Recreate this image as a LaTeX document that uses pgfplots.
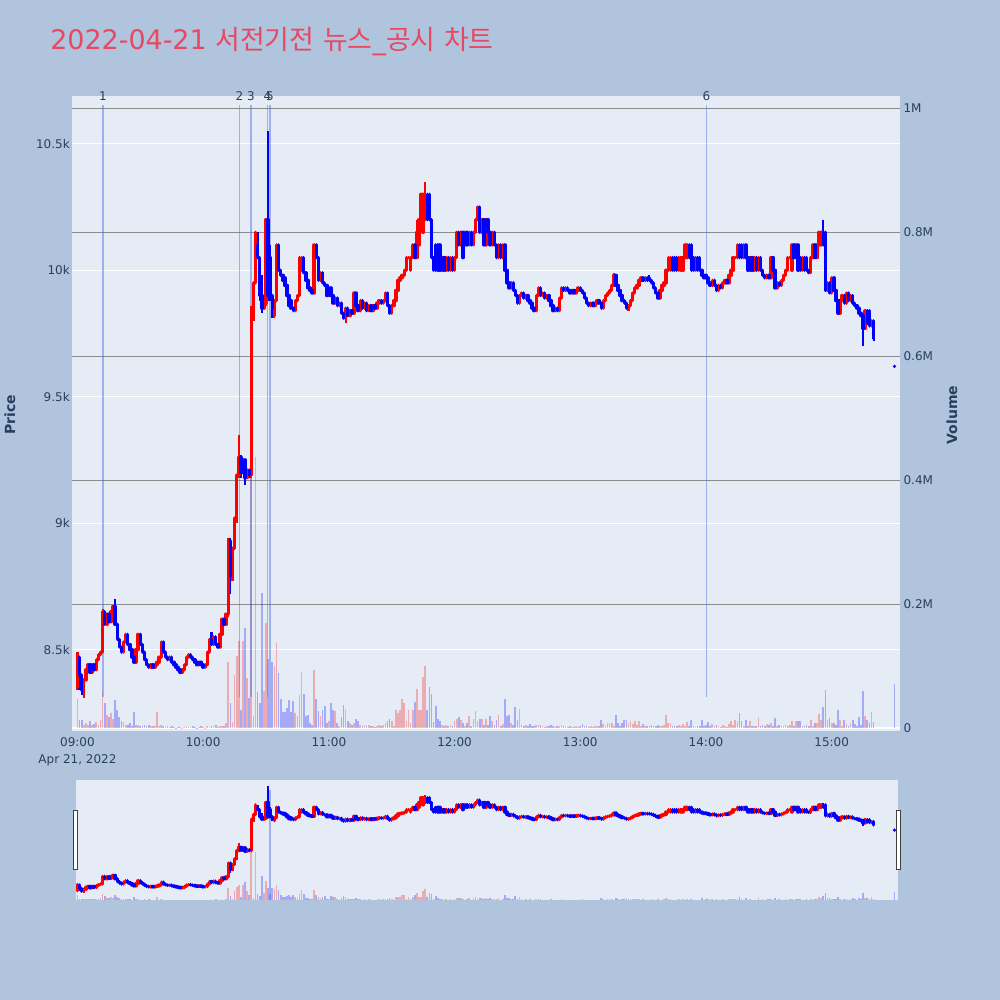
\documentclass[border=0pt]{standalone}
\usepackage{fontspec}
\usepackage{pgfplots}
\pgfplotsset{compat=1.18}
\usepackage{pgfplotstable}
\setmainfont{DejaVu Sans}
\newfontfamily\krfont{Noto Sans CJK KR}
\definecolor{pagebg}{RGB}{176,196,222}
\definecolor{plotbg}{RGB}{229,236,246}
\definecolor{tickc}{RGB}{42,63,95}
\definecolor{titlec}{RGB}{232,72,98}
\definecolor{vgrid}{RGB}{140,140,140}
\definecolor{vlinec}{RGB}{65,105,225}
\definecolor{upc}{RGB}{255,0,0}
\definecolor{dnc}{RGB}{0,0,255}

% t = minutes after 09:00, o h l c = price, v = volume, d = 1 up / -1 down
\pgfplotstableread{
t o h l c v d
0 8350 8490 8340 8480 48000 1
1 8470 8470 8340 8400 13000 -1
2 8400 8400 8320 8340 13000 -1
3 8340 8380 8310 8380 6000 1
4 8380 8420 8380 8420 8000 1
5 8420 8440 8420 8440 6000 1
6 8440 8440 8410 8410 12000 -1
7 8410 8440 8410 8440 5000 1
8 8440 8440 8420 8420 7000 -1
9 8420 8460 8420 8460 10000 1
10 8460 8480 8460 8480 6000 1
11 8480 8490 8480 8490 14000 1
12 8490 8660 8490 8650 58000 1
13 8650 8650 8600 8600 40000 -1
14 8600 8640 8600 8640 22000 1
15 8640 8640 8610 8610 18000 -1
16 8610 8650 8610 8650 25000 1
17 8650 8670 8650 8670 15000 1
18 8670 8700 8600 8600 45000 -1
19 8600 8600 8540 8540 30000 -1
20 8540 8540 8510 8510 18000 -1
21 8510 8510 8490 8490 12000 -1
22 8490 8530 8490 8530 10000 1
23 8530 8560 8530 8560 6000 1
24 8560 8560 8520 8520 5000 -1
25 8520 8520 8500 8500 8000 -1
26 8500 8500 8470 8470 4000 -1
27 8470 8470 8450 8450 26000 -1
28 8450 8500 8450 8500 6000 1
29 8500 8560 8500 8560 5000 1
30 8560 8560 8520 8520 4000 -1
31 8520 8520 8490 8490 3000 -1
32 8490 8490 8460 8460 6000 -1
33 8460 8460 8440 8440 3000 -1
34 8440 8440 8430 8430 5000 -1
35 8430 8440 8430 8440 3000 1
36 8440 8440 8430 8430 4000 -1
37 8430 8440 8430 8440 3000 1
38 8440 8450 8440 8450 26000 1
39 8450 8470 8450 8470 4000 1
40 8470 8530 8470 8530 5000 1
41 8530 8530 8490 8490 3000 -1
42 8490 8490 8470 8470 2000 -1
43 8470 8470 8460 8460 3000 -1
44 8460 8470 8460 8470 2000 1
45 8470 8470 8450 8450 4000 -1
46 8450 8450 8440 8440 2000 -1
47 8440 8440 8430 8430 1000 -1
48 8430 8430 8420 8420 2000 -1
49 8420 8420 8410 8410 2000 -1
50 8410 8420 8410 8420 1000 1
51 8420 8440 8420 8440 2000 1
52 8440 8470 8440 8470 3000 1
53 8470 8480 8470 8480 2000 1
54 8480 8480 8470 8470 2000 -1
55 8470 8470 8460 8460 3000 -1
56 8460 8460 8450 8450 2000 -1
57 8450 8450 8440 8440 1000 -1
58 8440 8450 8440 8450 2000 1
59 8450 8450 8440 8440 3000 -1
60 8440 8440 8430 8430 2000 -1
61 8430 8440 8430 8440 1000 1
62 8440 8490 8440 8490 3000 1
63 8490 8540 8490 8540 2000 1
64 8540 8570 8520 8520 4000 -1
65 8520 8550 8520 8550 3000 1
66 8550 8550 8520 8520 6000 -1
67 8520 8520 8510 8510 2000 -1
68 8510 8560 8510 8560 3000 1
69 8560 8620 8560 8620 4000 1
70 8620 8620 8600 8600 3000 -1
71 8600 8640 8600 8640 9000 1
72 8640 8940 8630 8930 107000 1
73 8930 8940 8720 8790 40000 -1
74 8790 8900 8770 8900 10000 1
75 8900 9020 8900 9020 86000 1
76 9020 9190 9000 9190 116000 1
77 9190 9350 9180 9260 140000 1
78 9260 9270 9180 9200 30000 -1
79 9200 9250 9200 9250 140000 1
80 9250 9250 9150 9180 162000 -1
81 9180 9210 9180 9210 81000 1
82 9210 9210 9180 9190 49000 -1
83 9190 9860 9180 9850 470000 1
84 9850 9950 9800 9950 20000 1
85 9950 10150 9950 10150 437000 1
86 10100 10150 10050 10050 59000 -1
87 10050 10050 9880 9900 40000 -1
88 9900 9980 9830 9850 218000 -1
89 9850 9870 9850 9870 60000 1
90 9870 10200 9860 10200 170000 1
91 10200 10550 9880 9900 111000 -1
92 10050 10100 9880 9900 50000 -1
93 9900 9900 9810 9850 107000 -1
94 9820 9880 9810 9880 100000 1
95 9880 10100 9880 10100 137000 1
96 10100 10100 10000 10000 89000 -1
97 10000 10000 9980 9980 47000 -1
98 9980 9980 9960 9960 27000 -1
99 9970 9970 9940 9940 27000 -1
100 9940 9940 9900 9900 32000 -1
101 9900 9900 9860 9860 45000 -1
102 9880 9880 9850 9850 27000 -1
103 9850 9850 9840 9840 44000 -1
104 9840 9880 9840 9880 24000 1
105 9880 9900 9880 9900 20000 1
106 9900 10050 9900 10050 54000 1
107 10000 10050 10000 10050 90000 1
108 10050 10050 9990 9990 55000 -1
109 9990 9990 9960 9960 20000 -1
110 9960 9960 9930 9930 22000 -1
111 9930 9930 9920 9920 8000 -1
112 9920 9920 9910 9910 5000 -1
113 9910 10100 9910 10100 94000 1
114 10100 10100 10050 10050 47000 -1
115 10050 10050 9960 9960 28000 -1
116 9960 9990 9960 9990 20000 1
117 9990 9990 9950 9950 30000 -1
118 9950 9950 9940 9940 36000 -1
119 9940 9940 9900 9900 8000 -1
120 9900 9930 9900 9930 12000 1
121 9930 9930 9900 9900 40000 -1
122 9900 9900 9870 9870 30000 -1
123 9870 9890 9870 9890 28000 1
124 9890 9890 9860 9860 8000 -1
125 9860 9870 9860 9870 3000 1
126 9870 9870 9830 9830 18000 -1
127 9830 9830 9810 9810 38000 -1
128 9810 9850 9790 9850 30000 1
129 9850 9850 9820 9820 12000 -1
130 9820 9840 9820 9840 8000 1
131 9840 9840 9830 9830 6000 -1
132 9830 9910 9830 9910 8000 1
133 9910 9910 9860 9860 15000 -1
134 9860 9860 9840 9840 11000 -1
135 9840 9880 9840 9880 5000 1
136 9880 9880 9850 9850 4000 -1
137 9850 9870 9850 9870 6000 1
138 9870 9870 9840 9840 3000 -1
139 9840 9860 9840 9860 5000 1
140 9860 9860 9840 9840 4000 -1
141 9840 9860 9840 9860 3000 1
142 9860 9860 9850 9850 2000 -1
143 9850 9870 9850 9870 4000 1
144 9870 9880 9870 9880 6000 1
145 9880 9880 9870 9870 3000 -1
146 9870 9880 9870 9880 5000 1
147 9880 9910 9880 9910 8000 1
148 9910 9910 9860 9860 11000 -1
149 9860 9860 9830 9830 15000 -1
150 9830 9860 9830 9860 11000 1
151 9860 9880 9860 9880 3000 1
152 9880 9920 9880 9920 30000 1
153 9920 9960 9920 9960 24000 1
154 9960 9970 9960 9970 30000 1
155 9970 9980 9970 9980 47000 1
156 9980 10000 9980 10000 41000 1
157 10000 10050 10000 10050 11000 1
158 10050 10050 10050 10050 30000 1
159 10000 10050 10000 10050 8000 1
160 10050 10100 10050 10100 30000 1
161 10100 10100 10050 10050 43000 -1
162 10050 10200 10050 10150 64000 1
163 10100 10200 10100 10200 30000 1
164 10200 10300 10200 10300 30000 1
165 10150 10300 10150 10300 82000 1
166 10200 10350 10200 10300 101000 1
167 10300 10300 10200 10200 30000 -1
168 10300 10300 10200 10200 67000 -1
169 10200 10200 10050 10050 56000 -1
170 10050 10050 10000 10000 10000 -1
171 10100 10100 10000 10000 36000 -1
172 10100 10100 10000 10000 15000 -1
173 10100 10100 10000 10000 12000 -1
174 10000 10050 10000 10050 5000 1
175 10050 10050 10000 10000 4000 -1
176 10000 10050 10000 10050 6000 1
177 10050 10050 10000 10000 3000 -1
178 10000 10050 10000 10050 5000 1
179 10050 10050 10000 10000 3000 -1
180 10000 10050 10000 10050 12000 1
181 10050 10150 10050 10150 15000 1
182 10150 10150 10100 10100 18000 -1
183 10100 10150 10100 10150 14000 1
184 10150 10150 10050 10050 8000 -1
185 10100 10150 10100 10150 3000 1
186 10150 10150 10100 10100 9000 -1
187 10100 10150 10100 10150 20000 1
188 10150 10150 10100 10100 3000 -1
189 10100 10150 10100 10150 15000 1
190 10150 10200 10150 10200 28000 1
191 10200 10250 10200 10250 11000 1
192 10250 10250 10150 10150 15000 -1
193 10150 10200 10150 10200 15000 1
194 10200 10200 10100 10100 6000 -1
195 10100 10200 10100 10200 15000 1
196 10200 10200 10150 10150 5000 -1
197 10150 10150 10100 10100 20000 -1
198 10100 10150 10100 10150 12000 1
199 10150 10150 10100 10100 5000 -1
200 10100 10100 10050 10050 13000 -1
201 10050 10100 10050 10100 21000 1
202 10100 10100 10050 10050 4000 -1
203 10050 10100 10050 10100 7000 1
204 10100 10100 10000 10000 48000 -1
205 10000 10000 9950 9950 20000 -1
206 9950 9950 9930 9930 22000 -1
207 9930 9950 9930 9950 9000 1
208 9950 9950 9920 9920 5000 -1
209 9920 9920 9900 9900 35000 -1
210 9900 9900 9870 9870 13000 -1
211 9870 9900 9870 9900 31000 1
212 9900 9910 9900 9910 5000 1
213 9910 9910 9890 9890 4000 -1
214 9890 9900 9890 9900 5000 1
215 9900 9900 9880 9880 3000 -1
216 9880 9880 9870 9870 7000 -1
217 9870 9870 9850 9850 4000 -1
218 9850 9850 9840 9840 3000 -1
219 9840 9900 9840 9900 6000 1
220 9900 9930 9900 9930 6000 1
221 9930 9930 9900 9900 5000 -1
222 9900 9910 9900 9910 3000 1
223 9910 9910 9890 9890 2000 -1
224 9890 9900 9890 9900 4000 1
225 9900 9900 9880 9880 3000 -1
226 9880 9880 9860 9860 5000 -1
227 9860 9860 9840 9840 3000 -1
228 9840 9850 9840 9850 2000 1
229 9850 9850 9840 9840 3000 -1
230 9840 9890 9840 9890 4000 1
231 9890 9930 9890 9930 6000 1
232 9930 9930 9920 9920 4000 -1
233 9920 9930 9920 9930 3000 1
234 9930 9930 9920 9920 2000 -1
235 9920 9920 9910 9910 3000 -1
236 9910 9920 9910 9920 2000 1
237 9920 9920 9910 9910 2000 -1
238 9910 9920 9910 9920 3000 1
239 9920 9930 9920 9930 2000 1
240 9930 9930 9920 9920 3000 -1
241 9920 9920 9910 9910 7000 -1
242 9910 9910 9890 9890 3000 -1
243 9890 9890 9870 9870 4000 -1
244 9870 9870 9860 9860 2000 -1
245 9860 9870 9860 9870 3000 1
246 9870 9870 9860 9860 2000 -1
247 9860 9870 9860 9870 3000 1
248 9870 9880 9870 9880 4000 1
249 9880 9880 9870 9870 3000 -1
250 9870 9870 9850 9850 14000 -1
251 9850 9880 9850 9880 7000 1
252 9880 9900 9880 9900 4000 1
253 9900 9910 9900 9910 8000 1
254 9910 9920 9910 9920 8000 1
255 9920 9940 9920 9940 9000 1
256 9940 9990 9940 9980 4000 1
257 9980 9980 9940 9940 21000 -1
258 9940 9940 9920 9920 8000 -1
259 9920 9920 9900 9900 4000 -1
260 9900 9900 9880 9880 8000 -1
261 9880 9880 9870 9870 13000 -1
262 9870 9870 9850 9850 14000 -1
263 9850 9860 9840 9860 9000 1
264 9860 9880 9860 9880 11000 1
265 9880 9910 9880 9910 7000 1
266 9910 9930 9910 9930 11000 1
267 9930 9940 9930 9940 5000 1
268 9940 9960 9940 9960 12000 1
269 9960 9970 9960 9970 4000 1
270 9970 9970 9960 9960 7000 -1
271 9960 9970 9960 9970 3000 1
272 9970 9970 9960 9960 3000 -1
273 9970 9980 9960 9960 4000 -1
274 9960 9960 9950 9950 5000 -1
275 9950 9950 9930 9930 3000 -1
276 9930 9930 9910 9910 4000 -1
277 9910 9910 9890 9890 5000 -1
278 9890 9920 9890 9920 3000 1
279 9920 9940 9920 9940 4000 1
280 9940 9950 9940 9950 6000 1
281 9950 10000 9950 10000 21000 1
282 10000 10050 10000 10050 9000 1
283 10000 10050 10000 10050 9000 1
284 10050 10050 10000 10000 4000 -1
285 10050 10050 10000 10000 3000 -1
286 10050 10050 10000 10000 4000 -1
287 10000 10050 10000 10050 5000 1
288 10000 10050 10000 10050 3000 1
289 10000 10050 10000 10050 7000 1
290 10050 10100 10050 10100 4000 1
291 10050 10100 10050 10100 10000 1
292 10100 10100 10050 10050 3000 -1
293 10100 10100 10000 10000 13000 -1
294 10050 10050 10000 10000 4000 -1
295 10000 10050 10000 10050 2000 1
296 10050 10050 10000 10000 3000 -1
297 10050 10050 10000 10000 4000 -1
298 10000 10000 9980 9980 14000 -1
299 9980 9980 9970 9970 3000 -1
300 9980 9980 9970 9970 5000 -1
301 9970 9970 9950 9950 10000 -1
302 9950 9950 9940 9940 3000 -1
303 9940 9960 9940 9960 7000 1
304 9960 9960 9940 9940 3000 -1
305 9940 9940 9920 9920 5000 -1
306 9920 9940 9920 9940 3000 1
307 9940 9940 9930 9930 2000 -1
308 9930 9950 9930 9950 5000 1
309 9950 9960 9950 9960 3000 1
310 9960 9960 9950 9950 2000 -1
311 9950 9980 9950 9980 7000 1
312 9980 10000 9980 10000 12000 1
313 10000 10050 10000 10050 5000 1
314 10050 10050 10050 10050 13000 1
315 10050 10100 10050 10100 12000 1
316 10100 10100 10050 10050 24000 -1
317 10100 10100 10050 10050 12000 -1
318 10050 10100 10050 10100 4000 1
319 10100 10100 10050 10050 14000 -1
320 10050 10050 10000 10000 3000 -1
321 10000 10050 10000 10050 12000 1
322 10050 10050 10000 10000 3000 -1
323 10000 10050 10000 10050 4000 1
324 10050 10050 10000 10000 3000 -1
325 10000 10050 10000 10050 17000 1
326 10050 10050 10000 10000 3000 -1
327 10000 10000 9980 9980 5000 -1
328 9980 9980 9970 9970 3000 -1
329 9970 9980 9970 9980 7000 1
330 9980 9980 9970 9970 5000 -1
331 9970 10050 9970 10050 9000 1
332 10050 10050 10000 10000 4000 -1
333 10000 10000 9930 9930 16000 -1
334 9930 9950 9930 9950 3000 1
335 9950 9950 9940 9940 5000 -1
336 9940 9960 9940 9960 3000 1
337 9960 9980 9960 9980 3000 1
338 9980 10000 9980 10000 5000 1
339 10000 10050 10000 10050 3000 1
340 10050 10050 10050 10050 5000 1
341 10000 10100 10000 10100 12000 1
342 10100 10100 10050 10050 4000 -1
343 10050 10100 10050 10100 12000 1
344 10100 10100 10000 10000 12000 -1
345 10050 10050 10000 10000 12000 -1
346 10000 10050 10000 10050 3000 1
347 10050 10050 10000 10000 3000 -1
348 10050 10050 10000 10000 5000 -1
349 10000 10000 9990 9990 3000 -1
350 9990 10050 9990 10050 13000 1
351 10050 10100 10050 10100 4000 1
352 10100 10100 10050 10050 9000 -1
353 10050 10100 10050 10100 9000 1
354 10100 10150 10100 10150 23000 1
355 10100 10150 10100 10150 14000 1
356 10150 10200 10100 10100 35000 -1
357 10150 10150 9920 9920 62000 -1
358 9920 9950 9920 9950 14000 1
359 9950 9950 9910 9910 17000 -1
360 9910 9970 9910 9970 9000 1
361 9970 9970 9920 9920 9000 -1
362 9920 9920 9880 9880 5000 -1
363 9880 9880 9830 9830 29000 -1
364 9830 9880 9830 9880 13000 1
365 9880 9900 9880 9900 4000 1
366 9900 9900 9870 9870 13000 -1
367 9870 9910 9870 9910 7000 1
368 9910 9910 9880 9880 4000 -1
369 9880 9900 9880 9900 9000 1
370 9900 9900 9870 9870 14000 -1
371 9870 9870 9860 9860 7000 -1
372 9860 9860 9850 9850 4000 -1
373 9850 9850 9830 9830 19000 -1
374 9830 9830 9820 9820 5000 -1
375 9820 9820 9700 9770 60000 -1
376 9770 9840 9770 9840 20000 1
377 9840 9840 9790 9790 14000 -1
378 9840 9840 9780 9780 8000 -1
379 9780 9800 9780 9800 26000 1
380 9800 9800 9720 9730 10000 -1
390 9620 9620 9620 9620 71000 -1
}\ohlc

\tikzset{tl/.style={font=\fontsize{9}{11}\selectfont, text=tickc}}

\pgfplotsset{
  mainpos/.style={scale only axis, width=621pt, height=476.25pt,
    at={(54pt,201.75pt)}, anchor=south west, xmin=-2.6, xmax=392.6},
  slidepos/.style={scale only axis, width=621pt, height=90pt,
    at={(54pt,75pt)}, anchor=south west, xmin=-2.6, xmax=392.6, hide axis},
  upf/.style={restrict expr to domain={\thisrow{d}}{0:2}},
  dnf/.style={restrict expr to domain={\thisrow{d}}{-2:0}},
  volup/.style={ycomb, draw=upc, draw opacity=0.28, line width=1.3pt, upf},
  voldn/.style={ycomb, draw=dnc, draw opacity=0.28, line width=1.3pt, dnf},
  wick/.style={line width=1.6pt, quiver={u=0, v=\thisrow{h}-\thisrow{l}}},
  body/.style={line width=2.6pt, line cap=round, quiver={u=0, v=\thisrow{c}-\thisrow{o}}},
  vl/.style={draw=vlinec, draw opacity=0.45, line width=1pt},
}

\begin{document}
\begin{tikzpicture}
\path[use as bounding box, fill=pagebg] (0pt,0pt) rectangle (750pt,750pt);

% ---------- main: price background, grid, ticks
\begin{axis}[mainpos, ymin=8178, ymax=10689,
  axis background/.style={fill=plotbg},
  axis line style={draw=none}, major tick length=0pt,
  scaled y ticks=false,
  ytick={8500,9000,9500,10000,10500},
  yticklabels={8.5k,9k,9.5k,10k,10.5k},
  ymajorgrids, grid style={white, line width=0.9pt},
  xtick={0,60,120,180,240,300,360},
  xticklabels={{09:00\\Apr 21, 2022},10:00,11:00,12:00,13:00,14:00,15:00},
  xticklabel style={align=center, font=\fontsize{9}{12.75}\selectfont, text=tickc, inner sep=0pt, yshift=-4.5pt},
  yticklabel style={tl, inner sep=0pt, xshift=-1.5pt},
]
\addplot[draw=none, forget plot] coordinates {(0,9000)};
\end{axis}

% ---------- main: volume axis
\begin{axis}[mainpos, ymin=-4355, ymax=1019800,
  axis y line*=right, axis x line=none,
  axis line style={draw=none}, major tick length=0pt,
  scaled y ticks=false,
  ytick={200000,400000,600000,800000,1000000},
  yticklabels={0.2M,0.4M,0.6M,0.8M,1M},
  extra y ticks={0}, extra y tick labels={0},
  extra y tick style={grid style={white, line width=1.5pt}},
  ymajorgrids, grid style={vgrid, line width=1pt},
  yticklabel style={tl, inner sep=0pt, xshift=2.5pt},
  clip mode=individual,
]
\addplot[volup] table[x=t, y=v] {\ohlc};
\addplot[voldn] table[x=t, y=v] {\ohlc};
\addplot[vl] coordinates {(12.17,50500) (12.17,1005300)};
\addplot[vl] coordinates {(77.33,50500) (77.33,1005300)};
\addplot[vl] coordinates {(82.82,50500) (82.82,1005300)};
\addplot[vl] coordinates {(90.69,50500) (90.69,1005300)};
\addplot[vl] coordinates {(91.89,50500) (91.89,1005300)};
\addplot[vl] coordinates {(300.2,50500) (300.2,1005300)};
\node[tl] at (axis cs:12.17,1019800) {1};
\node[tl] at (axis cs:77.33,1019800) {2};
\node[tl] at (axis cs:82.82,1019800) {3};
\node[tl] at (axis cs:90.69,1019800) {4};
\node[tl] at (axis cs:91.89,1019800) {5};
\node[tl] at (axis cs:300.2,1019800) {6};
\end{axis}

% ---------- main: candles
\begin{axis}[mainpos, ymin=8178, ymax=10689, hide axis]
\addplot[upc, wick, upf] table[x=t, y=l] {\ohlc};
\addplot[dnc, wick, dnf] table[x=t, y=l] {\ohlc};
\addplot[upc, body, upf] table[x=t, y=o] {\ohlc};
\addplot[dnc, body, dnf] table[x=t, y=o] {\ohlc};
\end{axis}

% ---------- range slider
\fill[plotbg] (57pt,75pt) rectangle (673.5pt,165pt);
\begin{axis}[slidepos, ymin=0, ymax=1090000]
\addplot[volup] table[x=t, y=v] {\ohlc};
\addplot[voldn] table[x=t, y=v] {\ohlc};
\addplot[vl] coordinates {(91.89,0) (91.89,1000000)};
\end{axis}
\begin{axis}[slidepos, ymin=8155, ymax=10672]
\addplot[upc, wick, upf] table[x=t, y=l] {\ohlc};
\addplot[dnc, wick, dnf] table[x=t, y=l] {\ohlc};
\addplot[upc, body, upf] table[x=t, y=o] {\ohlc};
\addplot[dnc, body, dnf] table[x=t, y=o] {\ohlc};
\end{axis}
\draw[fill=white, draw=black!75, line width=0.75pt] (55pt,97.5pt) rectangle (58pt,142pt);
\draw[fill=white, draw=black!75, line width=0.75pt] (672pt,97.5pt) rectangle (675pt,142pt);

% ---------- titles
\node[anchor=base west, font=\fontsize{20.2}{24}\selectfont, text=titlec, inner sep=0pt]
  at (37.5pt,713pt) {2022-04-21 {\krfont 서전기전} {\krfont 뉴스}\_{\krfont 공시} {\krfont 차트}};
\node[rotate=90, font=\bfseries\fontsize{10.5}{13}\selectfont, text=tickc] at (7.5pt,438.75pt) {Price};
\node[rotate=90, font=\bfseries\fontsize{10.5}{13}\selectfont, text=tickc] at (714pt,438.75pt) {Volume};
\end{tikzpicture}
\end{document}
